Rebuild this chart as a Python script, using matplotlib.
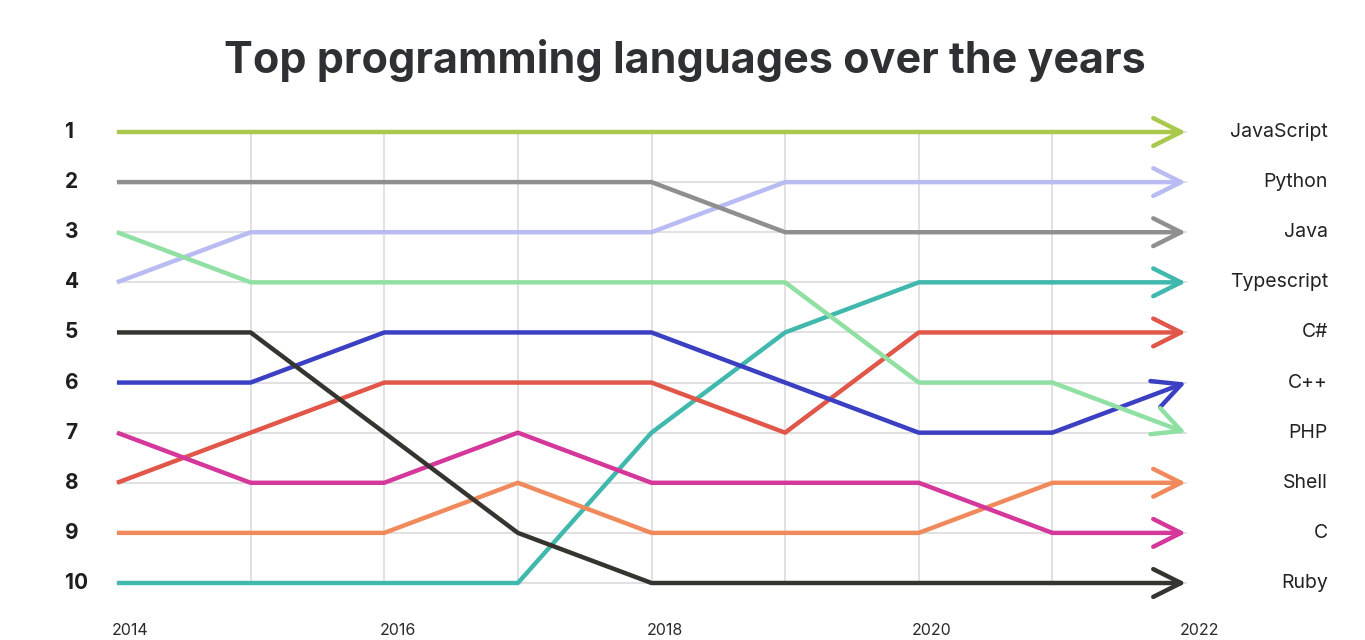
import matplotlib.pyplot as plt

# Ranking data (1 = top)
years = [2014, 2015, 2016, 2017, 2018, 2019, 2020, 2021, 2022]
languages = ['JavaScript', 'Python', 'Java', 'Typescript', 'C#',
             'C++', 'PHP', 'Shell', 'C', 'Ruby']
javascript = [1, 1, 1, 1, 1, 1, 1, 1, 1]
python = [4, 3, 3, 3, 3, 2, 2, 2, 2]
java = [2, 2, 2, 2, 2, 3, 3, 3, 3]
typescript = [10, 10, 10, 10, 7, 5, 4, 4, 4]
csharp = [8, 7, 6, 6, 6, 7, 5, 5, 5]
cpp = [6, 6, 5, 5, 5, 6, 7, 7, 6]
php = [3, 4, 4, 4, 4, 4, 6, 6, 7]
shell = [9, 9, 9, 8, 9, 9, 9, 8, 8]
c_lang = [7, 8, 8, 7, 8, 8, 8, 9, 9]
ruby = [5, 5, 7, 9, 10, 10, 10, 10, 10]
ranks = [javascript, python, java, typescript, csharp, cpp, php, shell, c_lang, ruby]
colors = ['#a9c84c', '#b8bcf3', '#8f8f8f', '#41b8ad', '#e0574a',
          '#3b3fc2', '#90e0a4', '#f08a5c', '#d4389a', '#33352e']
tick_years = [2014, 2016, 2018, 2020, 2022]

fig = plt.figure(figsize=(13.65, 6.4), dpi=100)
ax = fig.add_axes([117 / 1365, 1 - 583 / 640, (1186 - 117) / 1365, (583 - 132) / 640])
ax.set_xlim(2014, 2022)
ax.set_ylim(10, 1)
ax.axis('off')

# light grid
for y in range(1, 11):
    ax.plot([2014, 2022], [y, y], color='#dedede', lw=1.3, zorder=0, clip_on=False)
for x in years[1:-1]:
    ax.plot([x, x], [1, 10], color='#dedede', lw=1.3, zorder=0, clip_on=False)

# lines, the last segment carries the arrowhead
for r, c in zip(ranks, colors):
    ax.plot(years[:-1], r[:-1], color=c, lw=3.2, solid_capstyle='butt',
            solid_joinstyle='round', clip_on=False, zorder=2)
    ax.annotate('', xy=(years[-1], r[-1]), xytext=(years[-2], r[-2]),
                arrowprops=dict(arrowstyle='->,head_length=1.0,head_width=0.5',
                                mutation_scale=20, color=c, lw=3.2,
                                shrinkA=0, shrinkB=0),
                annotation_clip=False, zorder=2)

# rank numbers on the left
for y in range(1, 11):
    ax.text(-52 / 1069, y, str(y), transform=ax.get_yaxis_transform(),
            fontsize=15, fontweight='bold', family='Inter', color='#1e1e1e',
            ha='left', va='center')

# language names on the right
for name, r in zip(languages, ranks):
    ax.text((1328 - 117) / 1069, r[-1], name, transform=ax.get_yaxis_transform(),
            fontsize=14, family='Inter', color='#222222', ha='right', va='center')

# year labels
for yr in tick_years:
    ax.text(yr + 0.1, 10.95, str(yr), fontsize=11.5, family='Inter',
            color='#2a2a2a', ha='center', va='center')

fig.text(0.502, 0.905, 'Top programming languages over the years',
         fontsize=31, fontweight='bold', family='Inter', color='#2e3033',
         ha='center', va='center')

fig.savefig('out.png', dpi=100, facecolor='white')
